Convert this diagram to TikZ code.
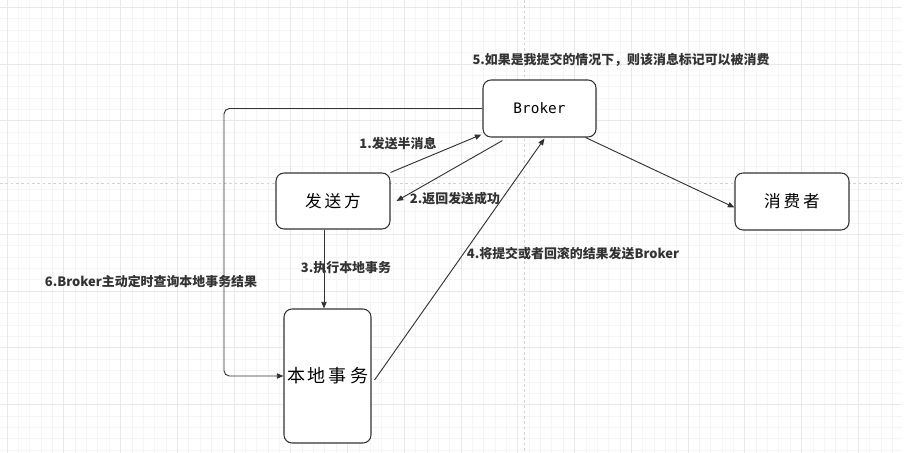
\documentclass[tikz,border=0pt]{standalone}
\usepackage{fontspec}
\setmainfont{Liberation Sans}
\newfontfamily\cjk{Noto Sans CJK SC}
\newfontfamily\monof{DejaVu Sans Mono}
\usetikzlibrary{arrows.meta,calc}
\definecolor{linec}{HTML}{333333}
\begin{document}
\begin{tikzpicture}[x=0.75pt,y=-0.75pt,
  box/.style={draw=linec,line width=0.8pt,rounded corners=6pt,fill=white,inner sep=0pt,font=\cjk\fontsize{12.5}{14}\selectfont},
  conn/.style={draw=linec,line width=0.7pt,-{Triangle[length=5pt,width=4pt]}},
  lbl/.style={font=\cjk\bfseries\fontsize{9.7}{11}\selectfont,text=black!80,inner sep=1pt},
  minorg/.style={draw=gray!8,line width=0.5pt},
  majorg/.style={draw=gray!17,line width=0.5pt},
  pageb/.style={draw=gray!35,line width=0.5pt,dash pattern=on 2pt off 2pt}]
\useasboundingbox (0,0) rectangle (917,453);
\fill[white] (0,0) rectangle (917,453);
% grid
\foreach \i in {0,...,78} {\draw[minorg] ({7+11.35*\i},0) -- ({7+11.35*\i},453);}
\foreach \i in {0,...,39} {\draw[minorg] (0,{7.3+11.35*\i}) -- (902,{7.3+11.35*\i});}
\foreach \i in {0,...,15} {\draw[majorg] ({7+56.75*\i},0) -- ({7+56.75*\i},453);}
\foreach \i in {0,...,7} {\draw[majorg] (0,{7.3+56.75*\i}) -- (902,{7.3+56.75*\i});}
\draw[pageb] (0,183) -- (902,183);
\draw[pageb] (524,0) -- (524,453);
% nodes
\node[box,minimum width=84.75pt,minimum height=42.75pt,font=\monof\fontsize{10.8}{13}\selectfont] (broker) at (539.5,108.5) {Broker};
\node[box,minimum width=85.5pt,minimum height=42pt] (fs) at (333,201) {发\,送\,方};
\node[box,minimum width=85.5pt,minimum height=42.75pt] (xf) at (792,201.5) {消\,费\,者};
\node[box,minimum width=65.25pt,minimum height=100.5pt,font=\cjk\fontsize{13.5}{15}\selectfont] (ld) at (327.5,376) {本\,地\,事\,务};
\coordinate (c3) at (324,0);
\coordinate (c6) at (224,0);
% connectors
\draw[conn] (fs.north east) -- ($(broker.south west)+(-1,-3)$);
\draw[conn] ($(broker.south west)+(20,3)$) -- ($(fs.east)+(6,0)$);
\draw[conn] (fs.south -| c3) -- (ld.north -| c3);
\draw[conn] ($(ld.east)+(3,4)$) -- ($(broker.south)+(5,1)$);
\draw[conn] ($(broker.south east)+(-11,0)$) -- ($(xf.west)+(0,6)$);
\draw[conn,rounded corners=4pt] (broker.west) -| (c6 |- ld.west) -- (ld.west);
% labels
\node[lbl] (l5) at (621,60) {5.如果是我提交的情况下，则该消息标记可以被消费};
\node[lbl] (l1) at (398,144) {1.发送半消息};
\node[lbl] (l2) at (455,199) {2.返回发送成功};
\node[lbl] (l3) at (346,268) {3.执行本地事务};
\node[lbl] (l4) at (573,254) {4.将提交或者回滚的结果发送Broker};
\node[lbl] (l6) at (151,282) {6.Broker主动定时查询本地事务结果};
\end{tikzpicture}
\end{document}
